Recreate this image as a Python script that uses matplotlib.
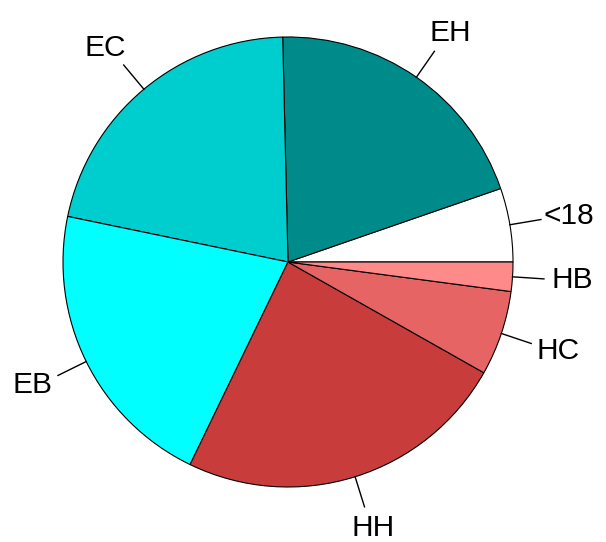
import numpy as np
import matplotlib.pyplot as plt

# slice shares (percent), counter-clockwise from 3 o'clock
labels = ['<18', 'EH', 'EC', 'EB', 'HH', 'HC', 'HB']
shares = [5.3, 20.1, 21.4, 21.1, 24.0, 6.1, 2.1]
colors = ['#FFFFFF', '#008B8B', '#00CDCD', '#00FFFF', '#C83C3C', '#E66464', '#FF8A8A']

plt.rcParams['font.family'] = ['Liberation Sans', 'DejaVu Sans']

fig = plt.figure(figsize=(6.06, 5.42), dpi=100)
ax = fig.add_axes([0, 0, 1, 1])

cx, cy, r = 288, 280, 225
wedges, _ = ax.pie(shares, colors=colors, startangle=0, counterclock=True,
                   center=(cx, cy), radius=r, frame=True,
                   wedgeprops=dict(edgecolor='black', linewidth=0.8))
ax.set_xlim(0, 606)
ax.set_ylim(0, 542)
ax.set_aspect('equal')
ax.axis('off')

# tick lines and labels like R's pie()
for w, lab in zip(wedges, labels):
    mid = np.deg2rad((w.theta1 + w.theta2) / 2)
    c, s = np.cos(mid), np.sin(mid)
    ax.plot([cx + r * c, cx + 1.14 * r * c], [cy + r * s, cy + 1.14 * r * s],
            color='black', lw=1.0)
    ax.text(cx + 1.265 * r * c, cy + 1.24 * r * s, lab, ha='center', va='center',
            fontsize=21.5)

fig.savefig('out.png', dpi=100)
